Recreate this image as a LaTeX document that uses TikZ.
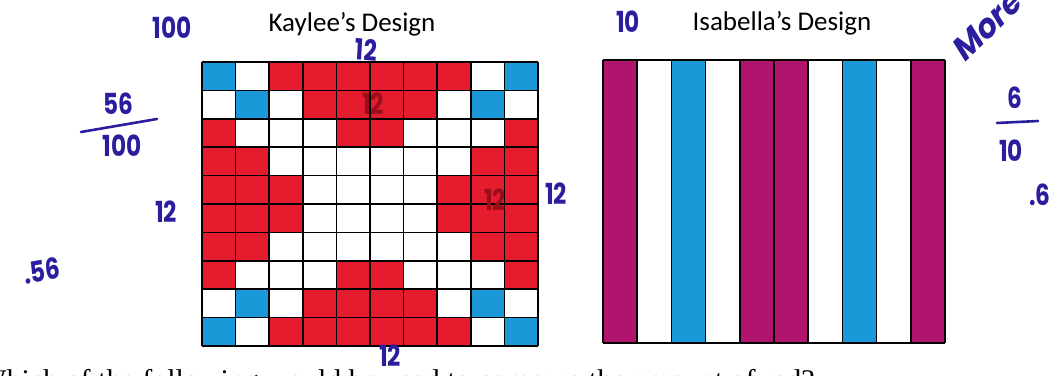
\documentclass[tikz,border=0pt]{standalone}
\usepackage{fontspec}
\setmainfont{Carlito}
\newfontfamily\handfont{Poppins}
\newfontfamily\printfont{Liberation Serif}
\usepackage{xcolor}
\usepackage{tikz}
\usetikzlibrary{positioning}
\definecolor{kR}{HTML}{E51B2E}
\definecolor{kB}{HTML}{1A98D8}
\definecolor{kW}{HTML}{FFFFFF}
\definecolor{kM}{HTML}{B0146C}
\definecolor{cInk}{HTML}{2A1E9E}
\definecolor{cDark}{HTML}{9A0E1C}
\tikzset{
  cell/.style={fill=#1},
  rule/.style={draw=black,line width=1.5pt},
  ttl/.style={font=\fontsize{27}{30}\selectfont,text=black,inner sep=0pt},
  ink/.style={font=\handfont\bfseries\fontsize{29}{32}\selectfont,text=cInk,inner sep=0pt,xscale=0.8},
  inkin/.style={ink,text=cDark},
  bar/.style={draw=cInk,line width=2.6pt,line cap=round},
}
\begin{document}
\begin{tikzpicture}[x=1pt,y=-1pt]
        \useasboundingbox (0,0) rectangle (1063,375);
        \clip (0,0) rectangle (1063,375);
        % Kaylee: 10 x 10 squares
        \foreach \row [count=\j] in {{B,W,R,R,R,R,R,R,W,B},{W,B,W,R,R,R,R,W,B,W},{R,W,W,W,R,R,W,W,W,R},{R,R,W,W,W,W,W,W,R,R},{R,R,R,W,W,W,W,R,R,R},{R,R,R,W,W,W,W,R,R,R},{R,R,W,W,W,W,W,W,R,R},{R,W,W,W,R,R,W,W,W,R},{W,B,W,R,R,R,R,W,B,W},{B,W,R,R,R,R,R,R,W,B}}
          \foreach \c [count=\i] in \row
            \fill[cell=k\c] ({202+33.6*(\i-1)},{62+28.4*(\j-1)}) rectangle +(33.6,28.4);
        \foreach \i in {0,...,10} {
          \draw[rule] ({202+33.6*\i},62) -- ({202+33.6*\i},346);
          \draw[rule] (202,{62+28.4*\i}) -- (538,{62+28.4*\i});
        }
        % Isabella: 10 strips
        \foreach \c [count=\i] in {M,W,B,W,M,M,W,B,W,M}
          \fill[cell=k\c] ({603+34.2*(\i-1)},60) rectangle +(34.2,283);
        \foreach \i in {0,...,10}
          \draw[rule] ({603+34.2*\i},60) -- ({603+34.2*\i},343);
        \draw[rule] (603,60) -- (945,60) (603,343) -- (945,343);
        \coordinate (kgrid) at (370,204);
        \coordinate (igrid) at (774,201);
        % titles
        \node[ttl] (kt) at (352,24) {Kaylee’s Design};
        \node[ttl] (it) at (782,23) {Isabella’s Design};
        % notes on Kaylee
        \node[ink] (k100) at (172,28) {100};
        \node[ink,rotate=-4] (ktop) at (366,50) {12};
        \node[ink] (kn) at (118,104) {56};
        \node[ink] (kd) at (122,146) {100};
        \draw[bar] (81,132) -- (157,119);
        \node[ink] (kleft) at (166,212) {12};
        \node[ink,rotate=8] (kdec) at (42,271) {.56};
        \node[ink] (kright) at (556,194) {12};
        \node[ink] (kbot) at (390,356) {12};
        \node[inkin] (kin1) at (373,104) {12};
        \node[inkin] (kin2) at (495,200) {12};
        % notes on Isabella
        \node[ink] (i10) at (628,22) {10};
        \node[ink,rotate=38,font=\handfont\bfseries\fontsize{36}{38}\selectfont] (imore) at (988,25) {More};
        \node[ink] (in) at (1015,98) {6};
        \draw[bar] (997,123) -- (1038,121);
        \node[ink] (id) at (1011,151) {10};
        \node[ink] (idec) at (1040,195) {.6};
        % next question, cut off
        \node[font=\printfont\fontsize{30}{34}\selectfont,anchor=base west,inner sep=0pt] (q) at (-22,390) {Which of the following would be used to compare the amount of red?};
      \end{tikzpicture}
\end{document}
